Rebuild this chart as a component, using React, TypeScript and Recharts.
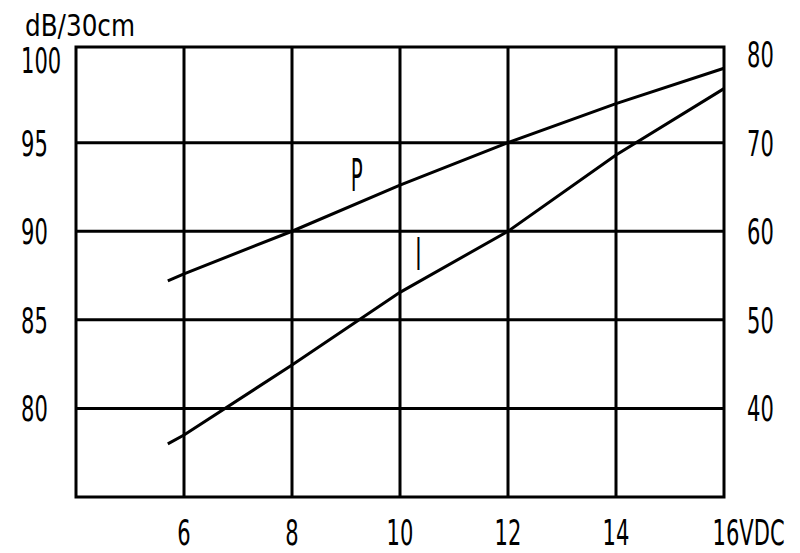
import { LineChart, Line, XAxis, YAxis, ReferenceLine, ReferenceArea, ReferenceDot } from 'recharts';

// supply voltage (VDC)
const voltage = [5.7, 6, 8, 10, 12, 14, 16];
// P: sound pressure, dB/30cm (left axis)
const pressure = [87.2, 87.6, 90, 92.6, 95, 97.2, 99.2];
// I: current (right axis)
const current = [36.0, 37.0, 44.9, 53.1, 60, 68.6, 76.1];

const xTicks = [6, 8, 10, 12, 14, 16];
const leftTicks = [80, 85, 90, 95, 100];
const rightTicks = [40, 50, 60, 70, 80];
const gridY = [80, 85, 90, 95];
const gridX = [6, 8, 10, 12, 14];

const data = voltage.map((v, i) => ({ v, p: pressure[i], i: current[i] }));

const FONT = '"DejaVu Sans Condensed", "DejaVu Sans", sans-serif';
const INK = '#000';

function LeftTick({ y, payload }: any) {
  // the top label sits a little lower, under the frame edge
  const dy = payload.value === 100 ? 19 : 13;
  return (
    <text transform={`translate(21,${y + dy}) scale(0.65,1)`} fontSize={36} fontFamily={FONT} fill={INK}>
      {payload.value}
    </text>
  );
}

function RightTick({ y, payload }: any) {
  return (
    <text transform={`translate(747,${y + 13}) scale(0.65,1)`} fontSize={36} fontFamily={FONT} fill={INK}>
      {payload.value}
    </text>
  );
}

function BottomTick({ x, payload }: any) {
  const last = payload.value === 16;
  return (
    <text
      transform={`translate(${last ? x - 11.5 : x},545) scale(0.65,1)`}
      textAnchor={last ? 'start' : 'middle'}
      fontSize={36}
      fontFamily={FONT}
      fill={INK}
    >
      {last ? '16VDC' : payload.value}
    </text>
  );
}

const curveLabel = (txt: string) => (props: any) => (
  <text
    transform={`translate(${props.cx},${props.cy + 16}) scale(0.5,1)`}
    textAnchor="middle"
    fontSize={44}
    fontFamily={FONT}
    fill={INK}
  >
    {txt}
  </text>
);

export default function App() {
  return (
    <div style={{ position: 'absolute', left: 0, top: 0, width: 800, height: 553, background: '#fff' }}>
      <LineChart width={800} height={553} data={data} margin={{ top: 47, right: 0, bottom: 0, left: 0 }}>
        <XAxis
          dataKey="v"
          type="number"
          domain={[4, 16]}
          ticks={xTicks}
          height={56}
          axisLine={false}
          tickLine={false}
          tick={<BottomTick />}
          interval={0}
        />
        <YAxis
          yAxisId="left"
          orientation="left"
          type="number"
          domain={[75, 100.4]}
          ticks={leftTicks}
          width={76}
          axisLine={false}
          tickLine={false}
          tick={<LeftTick />}
          interval={0}
          allowDataOverflow
        />
        <YAxis
          yAxisId="right"
          orientation="right"
          type="number"
          domain={[30, 80.8]}
          ticks={rightTicks}
          width={76}
          axisLine={false}
          tickLine={false}
          tick={<RightTick />}
          interval={0}
          allowDataOverflow
        />
        {gridY.map((g) => (
          <ReferenceLine key={'h' + g} yAxisId="left" y={g} stroke={INK} strokeWidth={3} />
        ))}
        {gridX.map((g) => (
          <ReferenceLine key={'v' + g} yAxisId="left" x={g} stroke={INK} strokeWidth={3} />
        ))}
        <ReferenceArea
          yAxisId="left"
          x1={4}
          x2={16}
          y1={75}
          y2={100.4}
          fill="none"
          fillOpacity={0}
          stroke={INK}
          strokeWidth={3}
        />
        <Line
          yAxisId="left"
          dataKey="p"
          type="linear"
          stroke={INK}
          strokeWidth={3}
          dot={false}
          isAnimationActive={false}
        />
        <Line
          yAxisId="right"
          dataKey="i"
          type="linear"
          stroke={INK}
          strokeWidth={3}
          dot={false}
          isAnimationActive={false}
        />
        <ReferenceDot yAxisId="left" x={9.2} y={93.2} r={0} shape={curveLabel('P')} />
        <ReferenceDot yAxisId="left" x={10.34} y={88.7} r={0} shape={curveLabel('I')} />
      </LineChart>
      <svg width={800} height={553} style={{ position: 'absolute', left: 0, top: 0, pointerEvents: 'none' }}>
        <text x={25} y={36} fontSize={30} fontFamily={FONT} fill={INK} textLength={110} lengthAdjust="spacingAndGlyphs">
          dB/30cm
        </text>
      </svg>
    </div>
  );
}
